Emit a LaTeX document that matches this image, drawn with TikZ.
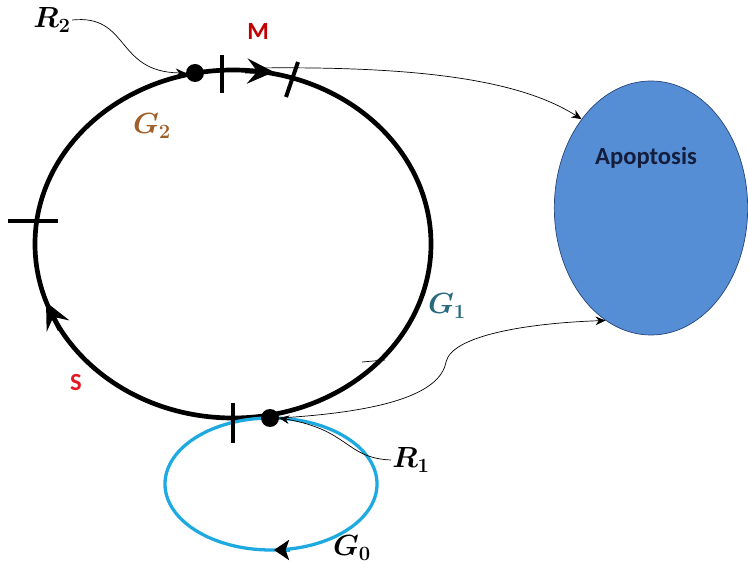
\documentclass[tikz,border=0pt]{standalone}
\usepackage{amsmath}
\usepackage{fontspec}
\setmainfont{Carlito}
\usetikzlibrary{arrows.meta,shapes.geometric}
\definecolor{skyblue}{RGB}{30,170,225}
\definecolor{apofill}{RGB}{85,142,213}
\definecolor{apoline}{RGB}{40,70,120}
\definecolor{apotext}{RGB}{20,30,60}
\definecolor{mred}{RGB}{192,0,0}
\definecolor{sred}{RGB}{230,25,35}
\definecolor{gbrown}{RGB}{160,95,40}
\definecolor{gteal}{RGB}{40,105,125}

\begin{document}
\begin{tikzpicture}[
  x=0.03cm, y=-0.03cm,
  phase/.style={ellipse, draw=black, line width=4pt, inner sep=0pt},
  rest/.style={ellipse, draw=skyblue, line width=2.8pt, inner sep=0pt},
  point/.style={circle, fill=black, inner sep=0pt, minimum size=5.4mm},
  tickmark/.style={line width=3.4pt},
  bigtip/.style={line width=4pt,
    -{Stealth[length=8mm, width=7.5mm, inset=3mm]}},
  smalltip/.style={line width=2.8pt, draw=skyblue,
    -{Stealth[length=4.5mm, width=6mm, inset=1mm, black]}},
  link/.style={line width=0.6pt, -{Stealth[length=3mm, width=2.6mm]}},
  lbl/.style={font=\fontsize{23}{26}\selectfont, inner sep=1pt},
  word/.style={font=\fontsize{21}{25}\selectfont\bfseries, inner sep=1pt}
]
\useasboundingbox (0,0) rectangle (748,571);

% Cycle, resting loop and apoptosis.
\node[phase, minimum width=11.88cm, minimum height=10.44cm] (cycle) at (233,244) {};
\node[rest, minimum width=6.36cm, minimum height=3.96cm] (quiescent) at (271,484) {};
\node[ellipse, draw=apoline, fill=apofill, line width=0.6pt,
  minimum width=5.8cm, minimum height=7.62cm] (apoptosis) at (651,208) {};
\node[word, text=apotext] (apolabel) at (646,158) {Apoptosis};

% Checkpoints.
\node[point] (rtwo) at (195,73) {};
\node[point] (rone) at (270,418) {};

% Phase boundaries.
\draw[tickmark] (222,55) -- (222,93);
\draw[tickmark] (298,62) -- (286,97);
\draw[tickmark] (8,221) -- (58,221);
\draw[tickmark] (233,403) -- (233,443);

% Direction marks.
\draw[bigtip] (245,71) -- (274,72);
\draw[bigtip] (60,330) -- (46,302);
\draw[smalltip] (290,550) -- (274,550);

% Labels.
\node[lbl] (lblR2) at (52,20) {$\boldsymbol{R_2}$};
\node[word, text=mred] (lblM) at (258,32) {M};
\node[lbl, text=gbrown] (lblG2) at (152,126) {$\boldsymbol{G_2}$};
\node[lbl, text=gteal] (lblG1) at (447,306) {$\boldsymbol{G_1}$};
\node[word, text=sred] (lblS) at (76,383) {S};
\node[lbl] (lblR1) at (411,460) {$\boldsymbol{R_1}$};
\node[lbl] (lblG0) at (352,548) {$\boldsymbol{G_0}$};

% Links to apoptosis and checkpoint pointers.
\coordinate (mexit) at (256,68);
\draw[link] (lblR2.east) .. controls (130,14) and (115,72) .. (rtwo.west);
\draw[link] (mexit) .. controls (420,66) and (520,80) .. (apoptosis.128);
\draw[link] (rone.east) .. controls (380,412) and (440,395) .. (446,362)
  .. controls (452,335) and (530,323) .. (apoptosis.248);
\draw[link] (lblR1.west) .. controls (345,458) and (350,430) .. (rone.east);
\draw[line width=0.6pt] (362,362) -- (385,360);

\end{tikzpicture}
\end{document}
